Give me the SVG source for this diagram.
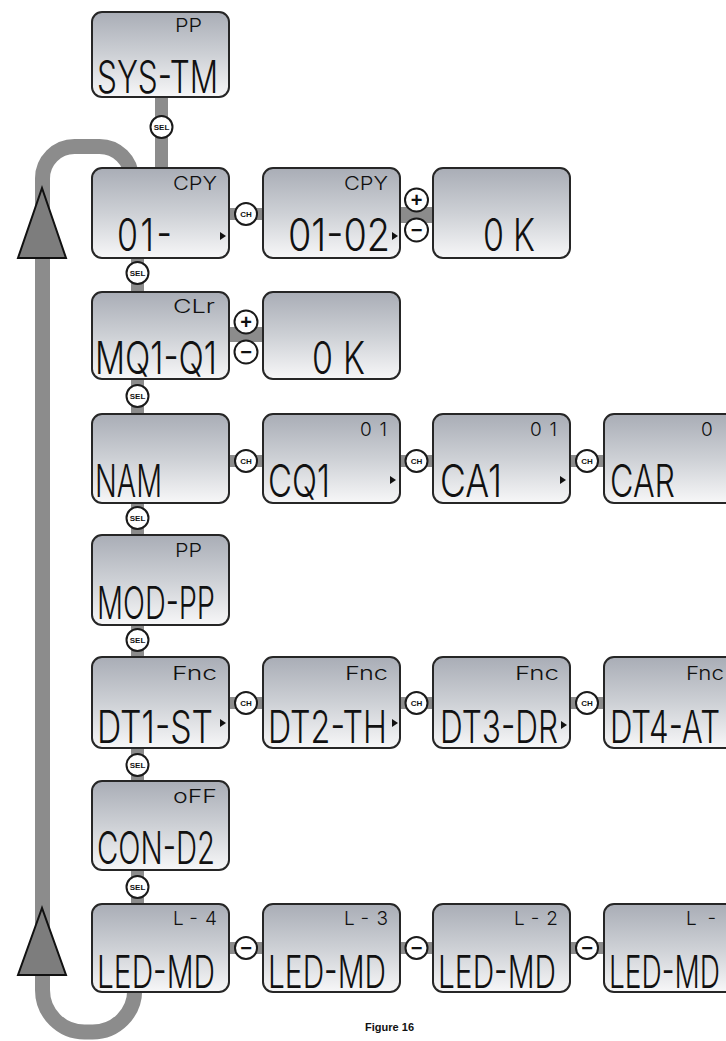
<svg xmlns="http://www.w3.org/2000/svg" width="726" height="1041" viewBox="0 0 726 1041">
<defs>
<linearGradient id="lcd" x1="0" y1="0" x2="0" y2="1">
<stop offset="0" stop-color="#a9adb6"/>
<stop offset="0.5" stop-color="#cdd0d5"/>
<stop offset="1" stop-color="#f7f7f8"/>
</linearGradient>
<style>
.box{fill:url(#lcd);stroke:#262626;stroke-width:2}
.big{font-family:Inter,"DejaVu Sans",sans-serif;font-weight:300;font-size:34px;fill:#111}
.bigs{font-family:Inter,"DejaVu Sans",sans-serif;font-weight:300;font-size:30px;fill:#111}
.top{font-family:Inter,"DejaVu Sans",sans-serif;font-weight:300;font-size:19px;fill:#111}
.mk{fill:#111}
.bar{fill:#8c8c8c}
.loop{fill:none;stroke:#8c8c8c;stroke-width:15}
.tri{fill:#7d7d7d;stroke:#111;stroke-width:2;stroke-linejoin:miter}
.btn{fill:#fff;stroke:#1a1a1a;stroke-width:2}
.bl{font-family:"Liberation Sans",Arial,sans-serif;font-weight:bold;font-size:8px;fill:#111;text-anchor:middle}
.sg{font-family:"Liberation Sans",Arial,sans-serif;font-weight:bold;font-size:20px;fill:#111;text-anchor:middle}
.cap{font-family:"Liberation Sans",Arial,sans-serif;font-weight:bold;font-size:11px;fill:#111}
</style>
</defs>
<rect width="726" height="1041" fill="#fff"/>
<g id="connectors">
<path class="loop" d="M131.5 180 L131.5 178 A32 32 0 0 0 99.5 146.5 L74.5 146.5 A32 32 0 0 0 42.5 178.5 L42.5 990 A42 42 0 0 0 84.5 1032 L92.7 1032 A42 42 0 0 0 134.7 990 L134.7 985"/>
<polygon class="tri" points="42,188 18,258 66,258"/>
<polygon class="tri" points="42,908 18,975 66,975"/>
<rect class="bar" x="155" y="96" width="13" height="74"/>
<rect class="bar" x="131" y="256" width="13" height="38"/>
<rect class="bar" x="131" y="377" width="13" height="39"/>
<rect class="bar" x="131" y="501" width="13" height="36"/>
<rect class="bar" x="131" y="623" width="13" height="36"/>
<rect class="bar" x="131" y="746" width="13" height="37"/>
<rect class="bar" x="131" y="868" width="13" height="38"/>
<rect class="bar" x="228" y="208" width="37" height="12"/>
<rect class="bar" x="399" y="207" width="36" height="16"/>
<rect class="bar" x="228" y="327" width="37" height="15"/>
<rect class="bar" x="228" y="455" width="37" height="12"/>
<rect class="bar" x="399" y="455" width="36" height="12"/>
<rect class="bar" x="569" y="455" width="37" height="12"/>
<rect class="bar" x="228" y="697" width="37" height="12"/>
<rect class="bar" x="399" y="697" width="36" height="12"/>
<rect class="bar" x="569" y="697" width="37" height="12"/>
<rect class="bar" x="228" y="942" width="37" height="12"/>
<rect class="bar" x="399" y="942" width="36" height="12"/>
<rect class="bar" x="569" y="942" width="37" height="12"/>
</g>
<g id="n-sys-tm"><rect class="box" x="92" y="12" width="137" height="85" rx="10"/><text class="top" x="175" y="32" textLength="27" lengthAdjust="spacingAndGlyphs">PP</text><text class="big" transform="translate(97 93) scale(1 1.32)" textLength="121" lengthAdjust="spacingAndGlyphs">SYS-TM</text></g>
<g id="n-cpy-01"><rect class="box" x="92" y="168" width="137" height="90" rx="10"/><text class="top" x="173" y="190" textLength="44" lengthAdjust="spacingAndGlyphs">CPY</text><text class="big" transform="translate(117 251) scale(1 1.32)" textLength="55" lengthAdjust="spacing">01-</text><polygon class="mk" points="220,232 226,236 220,240"/></g>
<g id="n-cpy-0102"><rect class="box" x="263" y="168" width="137" height="90" rx="10"/><text class="top" x="344" y="190" textLength="44" lengthAdjust="spacingAndGlyphs">CPY</text><text class="big" transform="translate(288 251) scale(1 1.32)" textLength="102" lengthAdjust="spacingAndGlyphs">01-02</text><polygon class="mk" points="392,232 398,236 392,240"/></g>
<g id="n-cpy-ok"><rect class="box" x="433" y="168" width="137" height="90" rx="10"/><text class="big" transform="translate(483 251) scale(1 1.32)" textLength="52" lengthAdjust="spacing">0 K</text></g>
<g id="n-clr"><rect class="box" x="92" y="292" width="137" height="87" rx="10"/><text class="top" x="173" y="313" textLength="42" lengthAdjust="spacingAndGlyphs">CLr</text><text class="big" transform="translate(95 374) scale(1 1.32)" textLength="122" lengthAdjust="spacingAndGlyphs">MQ1-Q1</text></g>
<g id="n-clr-ok"><rect class="box" x="263" y="292" width="137" height="87" rx="10"/><text class="big" transform="translate(312 374) scale(1 1.32)" textLength="53" lengthAdjust="spacing">0 K</text></g>
<g id="n-nam"><rect class="box" x="92" y="414" width="137" height="89" rx="10"/><text class="big" transform="translate(95 497) scale(1 1.32)" textLength="67" lengthAdjust="spacingAndGlyphs">NAM</text></g>
<g id="n-cq1"><rect class="box" x="263" y="414" width="137" height="89" rx="10"/><text class="top" x="360" y="436" textLength="27" lengthAdjust="spacing">01</text><text class="big" transform="translate(268 497) scale(1 1.32)" textLength="62" lengthAdjust="spacingAndGlyphs">CQ1</text><polygon class="mk" points="390,476 396,480 390,484"/></g>
<g id="n-ca1"><rect class="box" x="433" y="414" width="137" height="89" rx="10"/><text class="top" x="530" y="436" textLength="27" lengthAdjust="spacing">01</text><text class="big" transform="translate(440 497) scale(1 1.32)" textLength="62" lengthAdjust="spacingAndGlyphs">CA1</text><polygon class="mk" points="560,476 566,480 560,484"/></g>
<g id="n-car"><rect class="box" x="604" y="414" width="137" height="89" rx="10"/><text class="top" x="701" y="436">0</text><text class="big" transform="translate(610 497) scale(1 1.32)" textLength="65" lengthAdjust="spacingAndGlyphs">CAR</text></g>
<g id="n-mod-pp"><rect class="box" x="92" y="535" width="137" height="90" rx="10"/><text class="top" x="175" y="557" textLength="27" lengthAdjust="spacingAndGlyphs">PP</text><text class="big" transform="translate(97 619) scale(1 1.32)" textLength="118" lengthAdjust="spacingAndGlyphs">MOD-PP</text></g>
<g id="n-dt1"><rect class="box" x="92" y="657" width="137" height="91" rx="10"/><text class="top" x="172" y="680" textLength="45" lengthAdjust="spacingAndGlyphs">Fnc</text><text class="big" transform="translate(97 743) scale(1 1.32)" textLength="116" lengthAdjust="spacingAndGlyphs">DT1-ST</text><polygon class="mk" points="220,719 226,723 220,727"/></g>
<g id="n-dt2"><rect class="box" x="263" y="657" width="137" height="91" rx="10"/><text class="top" x="345" y="680" textLength="43" lengthAdjust="spacingAndGlyphs">Fnc</text><text class="big" transform="translate(268 743) scale(1 1.32)" textLength="119" lengthAdjust="spacingAndGlyphs">DT2-TH</text><polygon class="mk" points="392,719 398,723 392,727"/></g>
<g id="n-dt3"><rect class="box" x="433" y="657" width="137" height="91" rx="10"/><text class="top" x="515" y="680" textLength="44" lengthAdjust="spacingAndGlyphs">Fnc</text><text class="big" transform="translate(440 743) scale(1 1.32)" textLength="118" lengthAdjust="spacingAndGlyphs">DT3-DR</text><polygon class="mk" points="561,721 567,725 561,729"/></g>
<g id="n-dt4"><rect class="box" x="604" y="657" width="137" height="91" rx="10"/><text class="top" x="686" y="680" textLength="38" lengthAdjust="spacingAndGlyphs">Fnc</text><text class="bigs" transform="translate(610 743) scale(1 1.5)" textLength="110" lengthAdjust="spacingAndGlyphs">DT4-AT</text></g>
<g id="n-con-d2"><rect class="box" x="92" y="781" width="137" height="89" rx="10"/><text class="top" x="173" y="803" textLength="44" lengthAdjust="spacingAndGlyphs">oFF</text><text class="big" transform="translate(97 864) scale(1 1.32)" textLength="118" lengthAdjust="spacingAndGlyphs">CON-D2</text></g>
<g id="n-led4"><rect class="box" x="92" y="904" width="137" height="88" rx="10"/><text class="top" x="173" y="925" textLength="44" lengthAdjust="spacing">L-4</text><text class="big" transform="translate(97 988) scale(1 1.32)" textLength="118" lengthAdjust="spacingAndGlyphs">LED-MD</text></g>
<g id="n-led3"><rect class="box" x="263" y="904" width="137" height="88" rx="10"/><text class="top" x="344" y="925" textLength="44" lengthAdjust="spacing">L-3</text><text class="big" transform="translate(268 988) scale(1 1.32)" textLength="118" lengthAdjust="spacingAndGlyphs">LED-MD</text></g>
<g id="n-led2"><rect class="box" x="433" y="904" width="137" height="88" rx="10"/><text class="top" x="514" y="925" textLength="44" lengthAdjust="spacing">L-2</text><text class="big" transform="translate(438 988) scale(1 1.32)" textLength="118" lengthAdjust="spacingAndGlyphs">LED-MD</text></g>
<g id="n-led1"><rect class="box" x="604" y="904" width="137" height="88" rx="10"/><text class="top" x="686" y="925" textLength="30" lengthAdjust="spacing">L-</text><text class="bigs" transform="translate(609 988) scale(1 1.5)" textLength="111" lengthAdjust="spacingAndGlyphs">LED-MD</text></g>
<g id="connector-buttons">
<circle class="btn" cx="161.5" cy="127" r="11"/><text class="bl" x="161.5" y="130">SEL</text>
<circle class="btn" cx="137.5" cy="273" r="11"/><text class="bl" x="137.5" y="276">SEL</text>
<circle class="btn" cx="137.5" cy="396" r="11"/><text class="bl" x="137.5" y="399">SEL</text>
<circle class="btn" cx="137.5" cy="518" r="11"/><text class="bl" x="137.5" y="521">SEL</text>
<circle class="btn" cx="137.5" cy="640" r="11"/><text class="bl" x="137.5" y="643">SEL</text>
<circle class="btn" cx="137.5" cy="765" r="11"/><text class="bl" x="137.5" y="768">SEL</text>
<circle class="btn" cx="137.5" cy="887" r="11"/><text class="bl" x="137.5" y="890">SEL</text>
<circle class="btn" cx="246" cy="214" r="11"/><text class="bl" x="246" y="217">CH</text>
<circle class="btn" cx="416.5" cy="200" r="11.5"/><text class="sg" x="416.5" y="207">+</text>
<circle class="btn" cx="416.5" cy="230" r="11.5"/><text class="sg" x="416.5" y="237">−</text>
<circle class="btn" cx="246" cy="322" r="11.5"/><text class="sg" x="246" y="329">+</text>
<circle class="btn" cx="246" cy="352" r="11.5"/><text class="sg" x="246" y="359">−</text>
<circle class="btn" cx="246" cy="461" r="11"/><text class="bl" x="246" y="464">CH</text>
<circle class="btn" cx="416.5" cy="461" r="11"/><text class="bl" x="416.5" y="464">CH</text>
<circle class="btn" cx="587" cy="461" r="11"/><text class="bl" x="587" y="464">CH</text>
<circle class="btn" cx="246" cy="703" r="11"/><text class="bl" x="246" y="706">CH</text>
<circle class="btn" cx="416.5" cy="703" r="11"/><text class="bl" x="416.5" y="706">CH</text>
<circle class="btn" cx="587" cy="703" r="11"/><text class="bl" x="587" y="706">CH</text>
<circle class="btn" cx="246" cy="948" r="11"/><text class="sg" x="246" y="955">−</text>
<circle class="btn" cx="416.5" cy="948" r="11"/><text class="sg" x="416.5" y="955">−</text>
<circle class="btn" cx="587" cy="948" r="11"/><text class="sg" x="587" y="955">−</text>
</g>
<text class="cap" x="414" y="1031" text-anchor="end">Figure 16</text>
</svg>
